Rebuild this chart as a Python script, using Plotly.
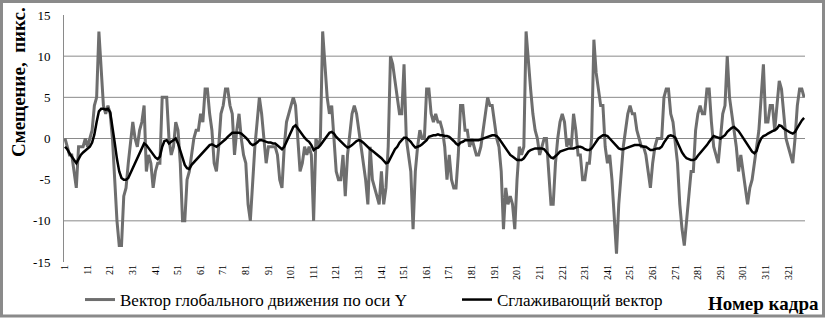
import plotly.graph_objects as go

FRAMES = list(range(1, 329))

GLOBAL_Y = [
    0, -1, -2, -2, -4, -6, -1, -1, -1, 0,
    -1, 0, 1, 4, 5, 13, 8, 4, 3, 4,
    3, 0, -5, -10, -13, -13, -7, -6, -3, 0,
    2, 0, -1, 1, 2, 4, -4, -2, -3, -6,
    -4, -3, -3, 5, 5, 5, 0, -2, -1, 2,
    1, -3, -10, -10, -5, -4, -2, 0, 1, 1,
    3, 2, 6, 6, 3, 1, -3, -4, -1, 3,
    4, 6, 6, 4, 3, -2, 1, 3, 0, -2,
    -3, -8, -10, -5, -1, 2, 5, 3, 0, -3,
    -1, -1, -1, -1, -2, -5, -6, -1, 2, 3,
    4, 5, 4, 0, -4, -3, -1, -2, -1, -2,
    -10, 0, -1, 0, 13, 9, 5, 3, 4, 0,
    -4, -5, -5, -2, -7, -2, 1, 3, 4, 3,
    1, -1, -3, -5, -8, -1, -5, -6, -7, -8,
    -4, -8, -6, -1, 10, 9, 7, 5, 3, 3,
    9, 0, -2, -4, -11, -4, -1, 1, 0, 0,
    6, 6, 3, 2, 3, 2, 2, 1, -1, -5,
    -2, -5, -6, -6, -2, 4, 4, 1, 1, -1,
    0, -1, -2, -2, -1, 1, 3, 5, 4, 4,
    2, 0, -1, -4, -11, -6, -8, -7, -8, -11,
    -5, -1, -2, -1, 13, 9, 6, 3, 1, 0,
    -2, -1, 0, 0, -4, -8, -8, -3, 0, 2,
    3, 2, -1, 0, -1, 3, 1, -2, -2, -5,
    -5, -3, -3, 0, 12, 8, 6, 4, 4, -1,
    -3, -2, -5, -9, -14, -8, -4, -1, 1, 3,
    4, 3, 3, 1, 0, -1, -1, -2, -4, -6,
    -3, -1, 0, 0, 0, 5, 6, 6, 3, 2,
    -1, -3, -8, -11, -13, -10, -7, -4, -4, 1,
    3, 4, 3, 3, 6, 6, 2, -1, -2, -3,
    0, 3, 4, 10, 5, 3, 1, -1, -4, -2,
    -4, -6, -8, -6, -5, -3, -1, 1, 5, 9,
    2, 2, 4, 4, 1, 4, 7, 6, 3, 0,
    -1, -2, -3, 0, 4, 6, 6, 5,
]

SMOOTHED = [
    -1, -1.3, -1.8, -2.2, -2.6, -3, -2.5, -2, -1.7, -1.5,
    -1.2, -1, -0.5, 0.5, 2, 3.3, 3.6, 3.6, 3.5, 3.6,
    3.2, 1.5, -0.5, -2.5, -4, -4.8, -5, -5, -4.8, -4.2,
    -3.6, -3, -2.6, -2, -1.3, -0.6, -0.8, -1.2, -1.5, -2,
    -2.3, -2.5, -2.2, -1, -0.3, -0.2, -0.6, -0.4, -0.2, 0,
    -0.6, -1.5, -2.5, -3.2, -3.6, -3.7, -3.2, -2.9, -2.6, -2.4,
    -2.1, -1.8, -1.5, -1.2, -0.8, -0.7, -0.9, -1, -0.8, -0.6,
    -0.4, -0.1, 0.2, 0.5, 0.7, 0.7, 0.7, 0.7, 0.6, 0.4,
    0.1, -0.2, -0.6, -0.8, -0.7, -0.5, -0.2, -0.2, -0.3, -0.4,
    -0.5, -0.5, -0.6, -0.6, -0.8, -1.1, -1.3, -1, -0.4, 0.3,
    1, 1.4, 1.6, 1.2, 0.8, 0.4, 0.1, -0.2, -0.4, -0.8,
    -1.4, -1.2, -1.1, -0.8, -0.4, 0, 0.4, 0.7, 0.8, 0.6,
    0.2, -0.1, -0.4, -0.6, -0.9, -1.1, -1, -0.8, -0.5, -0.3,
    -0.2, -0.3, -0.5, -0.8, -1.1, -1.3, -1.5, -1.7, -1.9, -2.1,
    -2.4, -2.7, -3, -2.9, -2.4, -1.8, -1.3, -1, -0.5, -0.2,
    0.1, 0.1, -0.1, -0.4, -0.8, -1.1, -1, -0.9, -0.7, -0.5,
    -0.2, 0.2, 0.3, 0.4, 0.4, 0.5, 0.4, 0.4, 0.3, 0.3,
    0.2, 0, -0.3, -0.6, -0.8, -0.5, -0.4, -0.2, -0.2, -0.2,
    -0.2, -0.2, -0.2, -0.2, -0.1, 0, 0.1, 0.2, 0.3, 0.4,
    0.4, 0.3, 0, -0.4, -0.9, -1.3, -1.7, -2, -2.2, -2.4,
    -2.6, -2.6, -2.6, -2.4, -2, -1.6, -1.4, -1.3, -1.2, -1.2,
    -1.2, -1.2, -1.3, -1.6, -2, -2.3, -2.4, -2.2, -1.9, -1.6,
    -1.5, -1.4, -1.3, -1.2, -1.2, -1.2, -1.1, -1, -1, -1.1,
    -1.3, -1.4, -1.4, -1.2, -0.8, -0.4, 0, 0.2, 0.4, 0.4,
    0.3, 0, -0.3, -0.7, -1, -1.2, -1.3, -1.3, -1.2, -1.1,
    -1, -0.9, -0.8, -0.8, -0.8, -0.9, -1, -1, -1.2, -1.4,
    -1.4, -1.3, -1.2, -1.2, -1, -0.5, -0.1, 0.3, 0.4, 0.3,
    0.1, -0.5, -1.2, -1.7, -2.1, -2.4, -2.5, -2.6, -2.6, -2.5,
    -2.1, -1.8, -1.5, -1.2, -0.8, -0.4, 0, 0.3, 0.2, 0.1,
    0, 0.2, 0.4, 0.8, 1.1, 1.3, 1.4, 1.2, 0.9, 0.5,
    0.1, -0.3, -0.8, -1.2, -1.6, -1.8, -1.5, -0.6, 0, 0.3,
    0.4, 0.6, 0.8, 0.9, 1, 1.2, 1.6, 1.5, 1.2, 1,
    0.8, 0.7, 0.6, 0.8, 1.3, 1.8, 2.2, 2.5,
]

X_TICKS = list(range(1, 329, 10))
Y_TICKS = [-15, -10, -5, 0, 5, 10, 15]
GRID_LEVELS = [10, 5, 0, -10]

SERIES_NAMES = ["Вектор глобального движения по оси Y", "Сглаживающий вектор"]
Y_TITLE = "Смещение,  пикс."
X_TITLE = "Номер кадра"

SERIF = "Liberation Serif, Times New Roman, serif"

L, R, T, B = 64, 20, 15, 57
PW, PH = 825 - L - R, 319 - T - B


def px(xp):
    return (xp - L) / PW


def py(yp):
    return (319 - B - yp) / PH


fig = go.Figure()

for lvl in GRID_LEVELS:
    fig.add_shape(type="line", xref="paper", yref="y", x0=0, x1=1, y0=lvl, y1=lvl,
                  line=dict(color="#8a8a8a", width=1), layer="below")

fig.add_trace(go.Scatter(x=FRAMES, y=GLOBAL_Y, mode="lines", name=SERIES_NAMES[0],
                         line=dict(color="#6e6e6e", width=3), legend="legend"))
fig.add_trace(go.Scatter(x=FRAMES, y=SMOOTHED, mode="lines", name=SERIES_NAMES[1],
                         line=dict(color="#000000", width=2.5), legend="legend2"))

# outer frame
fig.add_shape(type="rect", xref="paper", yref="paper",
              x0=px(1.5), x1=px(823.5), y0=py(316), y1=py(1.5),
              line=dict(color="#8a8a8a", width=3), fillcolor="rgba(0,0,0,0)")

fig.add_annotation(text="<b>" + Y_TITLE + "</b>", xref="paper", yref="paper",
                   x=px(18), y=py(82), textangle=-90,
                   showarrow=False, font=dict(family=SERIF, size=19, color="#000"),
                   xanchor="center", yanchor="middle")
fig.add_annotation(text="<b>" + X_TITLE + "</b>", xref="paper", yref="paper",
                   x=px(763), y=py(303),
                   showarrow=False, font=dict(family=SERIF, size=19, color="#000"),
                   xanchor="center", yanchor="middle")

leg_common = dict(orientation="h", yanchor="middle", xanchor="left",
                  font=dict(family=SERIF, size=17, color="#000"),
                  bgcolor="rgba(0,0,0,0)")

fig.update_layout(
    width=825, height=319,
    margin=dict(l=L, r=R, t=T, b=B, autoexpand=False),
    paper_bgcolor="white", plot_bgcolor="white",
    showlegend=True,
    legend=dict(x=px(80), y=py(300), **leg_common),
    legend2=dict(x=px(457), y=py(300), **leg_common),
    font=dict(family=SERIF, color="#000"),
)

fig.update_xaxes(range=[0.56, 328.4], tickvals=X_TICKS, ticktext=[str(v) for v in X_TICKS],
                 tickangle=-90, tickfont=dict(family=SERIF, size=10, color="#000"),
                 showgrid=False, zeroline=False, showline=False, ticks="", automargin=False)
fig.update_yaxes(range=[-15, 15], tickvals=Y_TICKS, ticktext=[str(v) for v in Y_TICKS],
                 tickfont=dict(family=SERIF, size=13, color="#000"),
                 showgrid=False, zeroline=False, showline=True, linecolor="#8a8a8a",
                 linewidth=1, ticks="", ticklabelstandoff=10, automargin=False)

fig.write_html("out.html", config={"displayModeBar": False},
               post_script="document.body.style.margin='0';document.body.style.overflow='hidden';")
